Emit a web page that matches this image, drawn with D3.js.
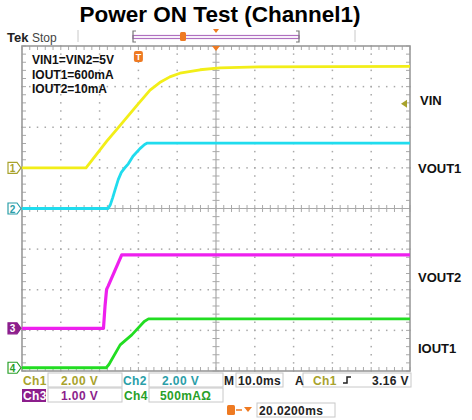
<!DOCTYPE html>
<html><head><meta charset="utf-8">
<script src="https://cdn.jsdelivr.net/npm/d3@7"></script>
<style>body{margin:0;background:#fff;} svg{display:block;font-family:"Liberation Sans",Arial,sans-serif;}</style>
</head><body><svg id="c" width="472" height="420"></svg>
<script>
// ---------- data ----------
const title = "Power ON Test (Channel1)";
const channelNames = ["VIN", "VOUT1", "VOUT2", "IOUT1"];
const channelScale = [2, 2, 1, 500];            // units per division
const channelOffsetDiv = [1, 0, -2.95, -3.92];  // ground marker position in divisions
const ch1Time = [-30, -13.5, -8.2, -5.3, -0.1, 3.0, 5.5, 8.1, 10.7, 15.9, 21, 31, 70];
const ch1Volts = [0, 0, 1.3, 1.96, 3.14, 3.83, 4.2, 4.48, 4.66, 4.83, 4.92, 4.97, 5.0];
const ch2Time = [-30, -7.8, -7.2, -6.6, -6.0, -5.2, -4.4, -3.6, -2.6, -1.4, 0.4, 1.6, 2.3, 70];
const ch2Volts = [0, 0, 0.2, 0.55, 0.93, 1.42, 1.78, 1.98, 2.2, 2.57, 2.95, 3.15, 3.22, 3.22];
const ch3Time = [-30, -9.0, -8.6, -8.2, -7.8, -4.3, 70];
const ch3Volts = [0, 0, 0.55, 0.96, 1.04, 1.81, 1.81];
const ch4Time = [-30, -8.3, -7.6, -6.9, -4.7, -1.7, 1.5, 2.6, 70];
const ch4mA = [0, 0, 40, 98, 282, 405, 570, 601, 601];
const triggerLevel = 3.16;   // V on Ch1
const triggerTime = 0;       // ms
const notes = ["VIN1=VIN2=5V", "IOUT1=600mA", "IOUT2=10mA"];
const statusRow1 = ["Ch1", "2.00 V", "Ch2", "2.00 V", "M", "10.0ms", "A", "Ch1", "3.16 V"];
const statusRow2 = ["Ch3", "1.00 V", "Ch4", "500mA\u03A9"];
const delayText = "20.0200ms";

// ---------- layout ----------
const svg = d3.select("#c");
const L = 22, R = 410, T = 46, B = 371;
const x = d3.scaleLinear().domain([-30, 70]).range([L, R]);
const yDiv = d3.scaleLinear().domain([-4, 4]).range([B, T]);
const colors = ["#f2ee18", "#20dcee", "#ee20ee", "#22dd22"];
const textColors = ["#a8a22c", "#2a9ea8", "#8c1e8c", "#28a028"];
const grid = "#a9a9a9";

// title
svg.append("text").attr("x", 220).attr("y", 22).attr("text-anchor", "middle")
  .attr("font-size", 22.5).attr("font-weight", "bold").attr("fill", "#000").text(title);

// top bar
svg.append("text").attr("x", 7).attr("y", 42).attr("font-size", 13).attr("font-weight", "bold").attr("fill", "#222").text("Tek");
svg.append("text").attr("x", 32).attr("y", 42).attr("font-size", 12).attr("fill", "#444").text("Stop");
[78, 355].forEach(v => svg.append("line").attr("x1", v).attr("x2", v).attr("y1", 30).attr("y2", 42).attr("stroke", "#c8c8c8").attr("stroke-width", 1));
const bar = svg.append("g");
bar.append("rect").attr("x", 133).attr("y", 35.5).attr("width", 166).attr("height", 3).attr("fill", "none").attr("stroke", "#b070c0").attr("stroke-width", 1.2);
bar.append("path").attr("d", "M136,31 H133 V42 H136 M296,31 H299 V42 H296").attr("fill", "none").attr("stroke", "#777").attr("stroke-width", 1.2);
bar.append("rect").attr("x", 180).attr("y", 32).attr("width", 6).attr("height", 9).attr("rx", 1.5).attr("fill", "#ee7a22");
bar.append("path").attr("d", `M${x(20) - 3},29 L${x(20) + 3},29 L${x(20)},33 Z`).attr("fill", "#ee7a22");

// graticule
const g = svg.append("g");
const minorX = d3.range(-30, 70.01, 2);
const minorY = d3.range(-4, 4.01, 0.2);
const majorX = d3.range(-20, 61, 10).filter(v => v !== 20);
const majorY = [-3, -2, -1, 1, 2, 3];
majorX.forEach(t => minorY.forEach(d => {
  g.append("rect").attr("x", x(t) - 0.75).attr("y", yDiv(d) - 0.75).attr("width", 1.5).attr("height", 1.5).attr("fill", grid);
}));
majorY.forEach(d => minorX.forEach(t => {
  g.append("rect").attr("x", x(t) - 0.75).attr("y", yDiv(d) - 0.75).attr("width", 1.5).attr("height", 1.5).attr("fill", grid);
}));
g.append("line").attr("x1", L).attr("x2", R).attr("y1", yDiv(0)).attr("y2", yDiv(0)).attr("stroke", grid).attr("stroke-width", 1.2);
g.append("line").attr("x1", x(20)).attr("x2", x(20)).attr("y1", T).attr("y2", B).attr("stroke", grid).attr("stroke-width", 1.2);
minorX.forEach(t => g.append("line").attr("x1", x(t)).attr("x2", x(t)).attr("y1", yDiv(0) - 3.5).attr("y2", yDiv(0) + 3.5).attr("stroke", grid));
minorY.forEach(d => g.append("line").attr("x1", x(20) - 3.5).attr("x2", x(20) + 3.5).attr("y1", yDiv(d)).attr("y2", yDiv(d)).attr("stroke", grid));
minorX.forEach(t => {
  g.append("line").attr("x1", x(t)).attr("x2", x(t)).attr("y1", T).attr("y2", T + 4).attr("stroke", grid);
  g.append("line").attr("x1", x(t)).attr("x2", x(t)).attr("y1", B).attr("y2", B - 4).attr("stroke", grid);
});
minorY.forEach(d => {
  g.append("line").attr("x1", L).attr("x2", L + 4).attr("y1", yDiv(d)).attr("y2", yDiv(d)).attr("stroke", grid);
  g.append("line").attr("x1", R).attr("x2", R - 4).attr("y1", yDiv(d)).attr("y2", yDiv(d)).attr("stroke", grid);
});
g.append("rect").attr("x", L).attr("y", T).attr("width", R - L).attr("height", B - T).attr("fill", "none").attr("stroke", "#9a9a9a").attr("stroke-width", 1.6);

// notes
notes.forEach((n, i) => svg.append("text").attr("x", 32).attr("y", 64 + i * 14.5).attr("font-size", 12).attr("font-weight", "bold").attr("fill", "#111").text(n));

// traces
const series = [
  ch1Time.map((t, i) => [t, ch1Volts[i]]),
  ch2Time.map((t, i) => [t, ch2Volts[i]]),
  ch3Time.map((t, i) => [t, ch3Volts[i]]),
  ch4Time.map((t, i) => [t, ch4mA[i]])
];
const widths = [2.8, 2.8, 3.2, 2.8];
series.forEach((s, k) => {
  const line = d3.line().x(d => x(d[0])).y(d => yDiv(channelOffsetDiv[k] + d[1] / channelScale[k])).curve(d3.curveLinear);
  svg.append("path").attr("d", line(s)).attr("fill", "none").attr("stroke", colors[k]).attr("stroke-width", widths[k]).attr("stroke-linejoin", "round");
});

// trigger marker inside graticule
const tx = x(triggerTime);
svg.append("rect").attr("x", tx - 4.5).attr("y", 51).attr("width", 9).attr("height", 11).attr("rx", 2).attr("fill", "#ee7a22");
svg.append("text").attr("x", tx).attr("y", 60).attr("text-anchor", "middle").attr("font-size", 9).attr("font-weight", "bold").attr("fill", "#fff").text("T");
svg.append("path").attr("d", `M${x(20) - 4},46 L${x(20) + 4},46 L${x(20)},51 Z`).attr("fill", "#ee7a22");
const ty = yDiv(channelOffsetDiv[0] + triggerLevel / channelScale[0]);
svg.append("path").attr("d", `M${R - 9},${ty} L${R - 3},${ty - 4} L${R - 3},${ty + 4} Z`).attr("fill", "#a8a22c");

// ground markers
channelNames.forEach((n, k) => {
  const yy = yDiv(channelOffsetDiv[k]);
  const filled = k === 2;
  svg.append("path").attr("d", `M8,${yy - 5.5} H17 L21,${yy} L17,${yy + 5.5} H8 Z`)
    .attr("fill", filled ? textColors[k] : "#fff").attr("stroke", textColors[k]).attr("stroke-width", 1.2);
  svg.append("text").attr("x", 12.5).attr("y", yy + 4).attr("text-anchor", "middle").attr("font-size", 10).attr("font-weight", "bold")
    .attr("fill", filled ? "#fff" : textColors[k]).text(k + 1);
});

// right labels
const labelY = [105, 173, 282, 353];
channelNames.forEach((n, k) => svg.append("text").attr("x", k === 0 ? 420 : 418).attr("y", labelY[k]).attr("font-size", 13).attr("font-weight", "bold").attr("fill", "#111").text(n));

// status boxes
const box = (x0, y0, w, h) => svg.append("rect").attr("x", x0).attr("y", y0).attr("width", w).attr("height", h).attr("fill", "#fff").attr("stroke", "#c8c8c8").attr("stroke-width", 1);
box(48, 373, 74, 14); box(149, 373, 74, 14); box(236, 373, 47, 14); box(303, 373, 108, 14);
box(48, 388, 74, 14); box(149, 388, 74, 14); box(257, 403, 78, 14);
const st = (x0, y0, txt, col, anchor) => svg.append("text").attr("x", x0).attr("y", y0).attr("font-size", 12).attr("font-weight", "bold")
  .attr("letter-spacing", 0.4).attr("text-anchor", anchor || "start").attr("fill", col).text(txt);
st(23, 385, statusRow1[0], textColors[0]);
st(61, 385, statusRow1[1], textColors[0]);
st(123, 385, statusRow1[2], textColors[1]);
st(162, 385, statusRow1[3], textColors[1]);
st(224, 385, statusRow1[4], "#222");
st(238, 385, statusRow1[5], "#222");
st(295, 385, statusRow1[6], "#222");
st(313, 385, statusRow1[7], textColors[0]);
svg.append("path").attr("d", "M343,383 H347 V377 H351").attr("fill", "none").attr("stroke", "#222").attr("stroke-width", 1.5);
st(409, 385, statusRow1[8], "#222", "end");
svg.append("rect").attr("x", 22).attr("y", 389).attr("width", 24).attr("height", 13).attr("fill", textColors[2]);
st(23, 400, statusRow2[0], "#fff");
st(61, 400, statusRow2[1], textColors[2]);
st(124, 400, statusRow2[2], textColors[3]);
st(160, 400, statusRow2[3], textColors[3]);
svg.append("rect").attr("x", 227).attr("y", 405).attr("width", 8).attr("height", 10).attr("rx", 1.5).attr("fill", "#ee7a22");
svg.append("path").attr("d", "M236,410 H242").attr("stroke", "#ee7a22").attr("stroke-width", 1.5);
svg.append("path").attr("d", "M244,407 L252,407 L248,412 Z").attr("fill", "#ee7a22");
st(259, 415, delayText, "#222");
</script></body></html>
